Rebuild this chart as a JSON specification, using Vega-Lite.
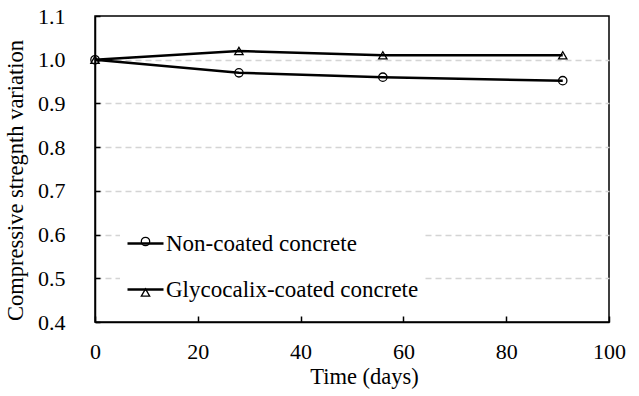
{
  "$schema": "https://vega.github.io/schema/vega-lite/v6.json",
  "width": 514,
  "height": 306,
  "autosize": {"type": "none"},
  "padding": {"left": 95, "top": 16, "right": 30, "bottom": 74},
  "background": "white",
  "config": {
    "font": "Liberation Serif",
    "view": {"stroke": "black", "strokeWidth": 1.5},
    "axis": {
      "labelFont": "Liberation Serif",
      "titleFont": "Liberation Serif",
      "labelColor": "black",
      "titleColor": "black",
      "labelFontSize": 22,
      "titleFontSize": 22.5,
      "titleFontWeight": "normal",
      "domainColor": "black",
      "domainWidth": 1.5,
      "tickColor": "black",
      "tickWidth": 1.5
    },
    "legend": {"labelFont": "Liberation Serif"}
  },
  "data": {
    "values": [
      {"day": 0, "value": 1.0, "series": "Non-coated concrete"},
      {"day": 28, "value": 0.97, "series": "Non-coated concrete"},
      {"day": 56, "value": 0.96, "series": "Non-coated concrete"},
      {"day": 91, "value": 0.952, "series": "Non-coated concrete"},
      {"day": 0, "value": 1.0, "series": "Glycocalix-coated concrete"},
      {"day": 28, "value": 1.02, "series": "Glycocalix-coated concrete"},
      {"day": 56, "value": 1.01, "series": "Glycocalix-coated concrete"},
      {"day": 91, "value": 1.01, "series": "Glycocalix-coated concrete"}
    ]
  },
  "encoding": {
    "x": {
      "field": "day",
      "type": "quantitative",
      "scale": {"domain": [0, 100], "nice": false, "zero": false},
      "axis": {
        "title": "Time (days)",
        "values": [0, 20, 40, 60, 80, 100],
        "grid": false,
        "tickSize": -6,
        "labelPadding": 25,
        "titlePadding": 3,
        "titleX": 269,
        "labelFlush": false
      }
    },
    "y": {
      "field": "value",
      "type": "quantitative",
      "scale": {"domain": [0.4, 1.1], "nice": false, "zero": false},
      "axis": {
        "title": "Compressive stregnth variation",
        "values": [0.4, 0.5, 0.6, 0.7, 0.8, 0.9, 1.0, 1.1],
        "format": ".1f",
        "grid": true,
        "gridColor": "#d4d4d4",
        "gridDash": [6, 4],
        "gridWidth": 1.3,
        "gridOpacity": {"condition": {"test": "datum.value > 1.05 || datum.value < 0.45", "value": 0}, "value": 1},
        "tickSize": -5,
        "labelPadding": 35,
        "titlePadding": 10,
        "titleY": 164,
        "labelFlush": false
      }
    }
  },
  "layer": [
    {
      "mark": {"type": "line", "strokeWidth": 2.5},
      "encoding": {
        "color": {
          "field": "series",
          "type": "nominal",
          "scale": {
            "domain": ["Non-coated concrete", "Glycocalix-coated concrete"],
            "range": ["black", "black"]
          },
          "legend": {
            "title": null,
            "orient": "none",
            "legendX": 25,
            "legendY": 202,
            "fillColor": "white",
            "padding": 6,
            "symbolType": "stroke",
            "symbolSize": 1296,
            "symbolStrokeWidth": 2.5,
            "symbolStrokeColor": "black",
            "labelFontSize": 23,
            "labelColor": "black",
            "labelOffset": 1,
            "labelLimit": 400,
            "rowPadding": 14
          }
        }
      }
    },
    {
      "mark": {"type": "point", "filled": false, "color": "black", "stroke": "black", "strokeWidth": 1.3, "size": 70, "opacity": 1},
      "encoding": {
        "shape": {
          "field": "series",
          "type": "nominal",
          "sort": ["Non-coated concrete", "Glycocalix-coated concrete"],
          "scale": {"range": ["circle", "triangle-up"]},
          "legend": {
            "title": null,
            "orient": "none",
            "legendX": 33,
            "legendY": 208,
            "padding": 6,
            "symbolSize": 70,
            "symbolStrokeColor": "black",
            "symbolStrokeWidth": 1.3,
            "symbolOpacity": 1,
            "labelFontSize": 23,
            "labelExpr": "''",
            "labelLimit": 400,
            "rowPadding": 27
          }
        }
      }
    }
  ]
}
